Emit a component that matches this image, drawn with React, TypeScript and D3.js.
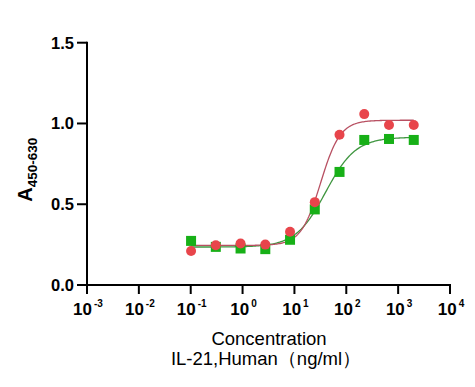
import React from 'react'
import * as d3 from 'd3'

// concentrations, ng/ml (1:3 dilution from 2000)
const conc = [0.1016, 0.3048, 0.9145, 2.743, 8.23, 24.69, 74.07, 222.2, 666.7, 2000]
const redValues = [0.21, 0.246, 0.257, 0.25, 0.33, 0.513, 0.93, 1.058, 0.99, 0.99]
const greenValues = [0.273, 0.236, 0.226, 0.222, 0.28, 0.468, 0.70, 0.898, 0.904, 0.898]

// 4PL fit parameters: bottom, top, EC50, hill
const redFit = [0.245, 1.02, 32, 2.3]
const greenFit = [0.235, 0.915, 40, 1.5]

const yTicks = [0, 0.5, 1.0, 1.5]
const xExponents = [-3, -2, -1, 0, 1, 2, 3, 4]

const RED = '#e8454b'
const RED_LINE = '#b85062'
const GREEN = '#17b017'
const GREEN_LINE = '#3f9640'

const fourPL = (p: number[], x: number) => p[0] + (p[1] - p[0]) / (1 + Math.pow(p[2] / x, p[3]))

const App = () => {
    const width = 475
    const height = 387
    const left = 87
    const right = 450
    const top = 42.7
    const bottom = 285

    const x = d3.scaleLog().domain([1e-3, 1e4]).range([left, right])
    const y = d3.scaleLinear().domain([0, 1.5]).range([bottom, top])

    const samples = d3.range(0, 201).map(i => Math.pow(10, -1 + (i / 200) * (Math.log10(2000) + 1)))
    const line = d3.line<number[]>().x(d => x(d[0])).y(d => y(d[1]))
    const redPath = line(samples.map(s => [s, fourPL(redFit, s)]))
    const greenPath = line(samples.map(s => [s, fourPL(greenFit, s)]))

    const font = 'Arial, "Liberation Sans", Helvetica, sans-serif'

    return (
        <svg width={width} height={height} style={{ position: 'absolute', left: 0, top: 0, background: '#fff' }}>
            <rect width={width} height={height} fill="#fff" />
            <g fontFamily={font}>
                {/* y axis */}
                <line x1={left} x2={left} y1={top - 1} y2={bottom + 1} stroke="#000" strokeWidth={2} />
                {yTicks.map(t => (
                    <g key={`y${t}`}>
                        <line x1={left - 10} x2={left} y1={y(t)} y2={y(t)} stroke="#000" strokeWidth={2} />
                        <text x={left - 13} y={y(t) + 5.8} textAnchor="end" fontSize={16.5} fontWeight="bold">
                            {t.toFixed(1)}
                        </text>
                    </g>
                ))}
                {/* x axis */}
                <line x1={left - 1} x2={right + 1} y1={bottom} y2={bottom} stroke="#000" strokeWidth={2} />
                {xExponents.map(e => (
                    <g key={`x${e}`}>
                        <line x1={x(Math.pow(10, e))} x2={x(Math.pow(10, e))} y1={bottom} y2={bottom + 9} stroke="#000" strokeWidth={2} />
                        <text x={x(Math.pow(10, e)) + 1} y={315} textAnchor="middle" fontSize={17} fontWeight="bold">
                            10<tspan fontSize={10} dx={2} dy={-8}>{e}</tspan>
                        </text>
                    </g>
                ))}
                <text x={269} y={345} textAnchor="middle" fontSize={18.5}>Concentration</text>
                <text x={266} y={365} textAnchor="middle" fontSize={18.5}>IL-21,Human（ng/ml）</text>
                {/* y label */}
                <text transform="translate(32.3,201.7) rotate(-90)" fontSize={20} fontWeight="bold">
                    A<tspan fontSize={13.5} dy={5}>450-630</tspan>
                </text>
                {/* curves */}
                <path d={greenPath || ''} fill="none" stroke={GREEN_LINE} strokeWidth={1.3} />
                <path d={redPath || ''} fill="none" stroke={RED_LINE} strokeWidth={1.3} />
                {conc.map((c, i) => (
                    <rect key={`g${i}`} x={x(c) - 5} y={y(greenValues[i]) - 5} width={10} height={10} fill={GREEN} />
                ))}
                {conc.map((c, i) => (
                    <circle key={`r${i}`} cx={x(c)} cy={y(redValues[i])} r={5} fill={RED} />
                ))}
            </g>
        </svg>
    )
}

export default App
